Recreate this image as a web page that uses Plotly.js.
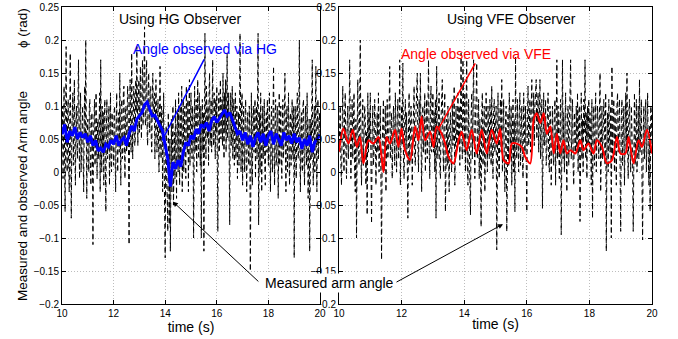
<!DOCTYPE html>
<html><head><meta charset="utf-8">
<script src="https://cdn.plot.ly/plotly-3.0.1.min.js"></script>
<style>html,body{margin:0;padding:0;background:#fff}#chart{width:678px;height:339px}</style>
</head><body><div id="chart"></div>
<script>
// sampling of the series (start time and step, in seconds)
const sampleStart = 10;
const measuredStep = 0.02;
const hgStep = 0.1;

// Measured arm angle (rad), left panel (HG), t = 10 .. 20 every 0.02 s
const measuredHG = [
 0.06,0.10,-0.01,0.04,0.13,0.02,-0.06,0.08,0.19,0.05,
 0.00,0.09,0.11,0.01,-0.03,0.07,0.18,0.03,-0.07,0.06,
 0.09,0.12,0.01,0.05,0.14,0.03,-0.02,0.08,0.10,0.04,
 0.02,0.11,0.17,0.06,-0.01,0.09,0.12,0.00,0.03,0.10,
 0.10,0.02,-0.03,0.07,0.13,0.05,0.20,0.08,-0.04,0.06,
 0.08,0.02,0.00,0.10,0.11,0.01,-0.02,0.07,0.09,0.03,
 -0.11,0.05,0.07,0.11,0.01,0.04,0.12,0.00,-0.01,0.08,
 0.08,0.02,0.05,0.12,-0.03,0.17,0.06,0.00,0.10,0.03,
 0.09,-0.02,0.08,0.11,0.01,-0.06,0.07,0.11,0.02,0.04,
 0.07,0.10,-0.02,0.05,0.12,0.01,0.00,0.09,0.06,0.02,
 0.01,0.09,0.10,0.02,-0.03,0.07,0.12,0.04,0.00,0.08,
 0.09,0.03,0.15,0.06,-0.02,0.10,0.11,0.02,0.03,0.12,
 0.13,0.05,-0.01,0.09,0.10,0.03,0.04,0.13,0.12,0.02,
 -0.11,0.08,0.14,0.05,0.03,0.18,0.10,0.02,0.07,0.13,
 0.12,0.04,0.05,0.14,0.09,0.19,0.06,0.04,0.11,0.14,
 0.06,0.12,0.16,0.08,0.05,0.13,0.17,0.07,0.09,0.15,
 0.22,0.08,0.07,0.14,0.17,0.06,0.04,0.12,0.15,0.08,
 0.06,0.13,0.13,0.05,0.03,0.11,0.15,0.09,0.08,0.12,
 0.02,0.07,0.14,0.10,0.03,0.06,0.11,0.02,0.00,0.09,
 0.16,0.05,0.02,0.10,0.09,-0.03,0.04,0.12,0.01,-0.05,
 -0.13,0.03,0.07,-0.02,-0.04,-0.09,0.09,0.01,-0.08,0.05,
 -0.12,0.06,0.08,-0.03,0.02,0.10,-0.05,0.00,0.06,-0.01,
 0.11,0.03,-0.04,0.07,0.09,0.00,0.12,0.02,-0.02,0.10,
 0.01,0.05,0.13,-0.03,0.04,0.11,0.00,0.08,0.10,0.02,
 -0.01,0.13,0.06,0.03,0.11,-0.03,0.09,0.14,0.01,0.06,
 0.12,0.05,0.02,0.10,0.08,-0.10,0.07,0.13,0.03,0.06,
 0.11,0.00,0.09,0.14,0.04,0.02,0.12,0.08,0.01,0.10,
 -0.10,0.06,0.11,0.03,0.09,-0.12,0.05,0.21,0.08,0.02,
 0.13,0.07,0.05,0.10,0.01,0.12,0.15,0.04,0.06,0.11,
 0.03,0.09,0.17,0.05,0.04,0.12,0.08,0.02,0.11,0.06,
 0.13,0.06,-0.09,0.09,0.12,0.03,0.07,0.14,0.05,0.10,
 0.11,0.04,0.15,0.08,0.02,0.12,0.06,0.14,0.03,0.09,
 0.18,0.05,0.08,0.12,0.03,-0.08,0.09,0.12,0.04,0.07,
 0.13,0.02,0.06,0.11,0.01,0.09,0.12,0.02,0.05,0.10,
 -0.01,0.08,0.09,0.01,0.06,0.21,0.04,0.00,0.10,0.12,
 -0.02,0.06,0.10,0.03,0.00,0.09,0.11,0.02,-0.03,0.07,
 0.09,0.04,0.01,0.10,0.06,-0.15,0.08,0.12,0.00,-0.02,
 0.09,0.10,0.03,0.05,0.11,-0.01,0.06,0.10,0.02,0.08,
 0.21,-0.08,0.05,0.09,0.00,0.12,0.07,-0.03,0.04,0.10,
 0.02,0.08,0.11,0.01,-0.02,0.07,0.09,0.03,0.11,0.04,
 0.01,0.08,0.12,0.03,-0.03,0.06,0.10,0.02,0.00,0.09,
 0.16,0.04,-0.02,0.08,0.11,0.01,0.02,0.10,0.09,-0.04,
 0.06,0.12,0.01,0.05,0.10,0.03,-0.01,0.07,0.11,0.02,
 0.04,0.09,0.15,0.03,-0.03,0.08,0.10,0.00,0.05,0.12,
 0.02,-0.02,0.08,0.09,0.01,0.06,0.11,0.03,0.02,0.10,
 -0.13,0.05,0.10,0.02,-0.01,0.08,0.12,0.03,0.02,0.09,
 0.20,0.04,-0.03,0.07,0.09,0.01,0.00,0.10,0.11,0.02,
 -0.02,0.06,0.10,0.04,0.01,0.12,0.07,-0.04,0.03,0.08,
 -0.12,0.06,0.08,0.02,0.10,0.17,0.03,-0.02,0.07,0.10,
 0.00,0.05,0.16,0.04,-0.03,0.08,0.11,0.02,0.06,0.09,
 0.06
];

// Measured arm angle (rad), right panel (VFE), t = 10 .. 20 every 0.02 s
const measuredVFE = [
 0.03,0.08,0.10,0.01,-0.02,0.06,0.13,0.04,0.00,0.09,
 0.12,0.03,-0.01,0.07,0.10,0.02,0.05,0.17,0.08,-0.01,
 0.06,0.11,0.02,0.09,0.12,0.00,-0.03,0.08,-0.10,0.05,
 0.14,0.04,0.01,0.10,0.20,0.03,-0.02,0.07,0.11,0.01,
 0.04,0.10,0.08,-0.02,0.06,-0.065,0.12,0.03,0.09,0.05,
 0.12,0.02,-0.078,0.06,0.10,0.01,0.03,0.11,0.07,-0.02,
 0.05,0.09,0.03,0.12,0.00,0.06,0.10,-0.01,-0.133,0.04,
 0.08,0.11,0.00,0.05,0.10,-0.03,0.07,0.11,0.02,0.04,
 0.09,0.16,0.02,0.06,0.09,-0.01,0.03,0.10,0.07,0.01,
 0.12,0.03,0.00,0.08,0.11,0.02,0.06,0.17,-0.02,0.05,
 0.10,0.04,0.165,0.02,-0.01,0.08,0.11,0.03,0.09,0.02,
 -0.07,0.06,0.12,0.01,0.04,0.10,0.08,-0.02,0.05,0.11,
 0.13,0.02,0.01,0.09,0.12,0.15,0.04,0.00,0.11,0.06,
 0.15,0.02,-0.03,0.08,0.10,0.03,0.05,0.12,0.00,0.07,
 0.11,0.02,0.09,0.17,0.04,-0.01,0.10,0.13,0.03,0.06,
 0.12,0.03,0.09,0.00,0.11,-0.07,0.16,0.05,0.02,0.10,
 0.12,0.01,-0.01,0.08,0.11,0.14,0.04,0.00,0.09,0.12,
 -0.06,0.05,0.08,0.01,0.10,0.03,-0.03,0.07,0.09,0.02,
 0.00,0.11,0.04,0.06,0.13,-0.02,0.08,0.10,0.03,0.05,
 0.12,0.04,0.10,0.01,0.09,0.18,0.06,0.02,0.17,0.08,
 0.03,0.12,0.00,0.09,0.17,0.01,-0.02,0.11,0.06,0.03,
 -0.065,0.08,0.12,0.02,0.10,0.17,0.05,-0.01,0.09,0.11,
 0.165,0.02,0.06,0.11,-0.01,0.08,0.03,-0.083,0.09,0.12,
 0.01,0.06,0.10,-0.03,0.04,0.12,0.07,0.00,0.10,0.05,
 0.02,0.11,0.08,0.01,0.13,0.04,-0.01,0.09,0.11,0.03,
 0.06,0.10,-0.118,0.04,0.12,0.02,-0.01,0.09,0.11,0.03,
 0.14,0.00,0.06,0.11,0.02,-0.03,0.08,0.10,-0.09,0.05,
 0.09,0.01,0.12,0.07,0.03,0.10,-0.02,0.06,0.11,0.00,
 0.08,-0.06,0.175,0.04,0.02,0.11,0.06,0.00,0.09,0.12,
 0.01,0.05,0.10,0.02,-0.01,0.12,0.07,0.03,0.10,0.00,
 -0.06,0.08,0.13,0.04,0.06,0.11,0.03,0.09,0.14,0.05,
 0.06,0.12,0.04,0.10,0.13,0.14,0.05,0.08,0.12,0.03,
 0.09,0.14,0.02,0.07,0.11,-0.055,0.10,0.12,0.04,0.06,
 0.11,0.01,0.03,0.09,0.12,0.02,0.00,0.10,0.08,-0.02,
 0.05,0.10,0.03,0.01,0.09,0.11,-0.02,0.06,0.17,0.02,
 0.10,0.04,-0.01,0.08,0.11,-0.095,0.06,0.17,0.02,0.09,
 0.00,0.07,0.12,0.03,-0.03,0.09,0.10,0.01,0.05,0.11,
 0.17,0.02,0.08,0.11,0.01,-0.02,0.09,0.06,0.03,0.10,
 0.03,0.12,0.00,0.09,0.10,-0.075,0.05,0.12,0.02,0.08,
 0.00,0.11,0.06,0.17,0.02,0.09,-0.01,0.10,0.04,0.11,
 0.03,0.09,0.05,-0.02,0.11,-0.07,0.06,0.10,0.01,0.08,
 0.12,0.00,0.04,0.10,0.07,0.02,0.09,0.15,-0.03,0.06,
 0.10,0.02,0.05,0.11,0.08,0.01,0.12,-0.12,0.04,0.09,
 0.00,0.11,0.06,0.03,0.10,-0.10,0.16,0.02,0.07,0.11,
 0.00,0.09,0.04,-0.02,0.10,0.12,0.03,0.06,0.11,0.01,
 -0.09,0.08,0.11,0.01,0.06,0.10,-0.02,0.07,0.12,0.03,
 0.15,0.04,-0.01,0.09,0.11,0.03,0.00,0.10,0.06,0.02,
 -0.09,0.07,0.12,0.01,0.05,0.11,0.00,0.08,0.10,0.02,
 0.14,0.03,0.09,0.11,-0.01,-0.103,0.06,0.10,0.02,0.08,
 0.11,0.00,0.05,0.12,0.03,-0.02,0.07,-0.06,0.10,0.09,
 0.04
];

// Angle observed via HG (rad), t = 10 .. 20 every 0.1 s
const observedHG = [
 0.057,0.072,0.045,0.062,0.055,0.068,0.050,0.060,0.052,0.058,
 0.045,0.055,0.040,0.048,0.032,0.036,0.030,0.042,0.038,0.048,
 0.042,0.055,0.040,0.048,0.052,0.040,0.058,0.070,0.062,0.080,
 0.085,0.090,0.102,0.106,0.095,0.085,0.086,0.078,0.070,0.062,
 0.040,0.020,-0.022,0.015,0.005,0.018,0.008,0.030,0.045,0.040,
 0.055,0.050,0.065,0.058,0.072,0.068,0.075,0.062,0.078,0.084,
 0.075,0.082,0.088,0.094,0.085,0.090,0.080,0.070,0.058,0.062,
 0.048,0.060,0.042,0.055,0.038,0.052,0.060,0.045,0.058,0.040,
 0.055,0.062,0.042,0.058,0.050,0.040,0.060,0.048,0.055,0.043,
 0.058,0.045,0.052,0.035,0.050,0.040,0.055,0.030,0.045,0.050,
 0.057
];

// Angle observed via VFE (rad): turning points
const vfeTime = [
 10.00,10.14,10.30,10.44,10.57,10.67,10.78,10.94,11.10,11.26,11.42,11.52,11.63,11.79,11.90,12.00,12.11,12.27,12.43,12.54,
 12.64,12.75,12.91,13.02,13.12,13.28,13.39,13.50,13.66,13.82,13.92,14.08,14.24,14.40,14.56,14.72,14.88,15.04,15.15,15.26,
 15.42,15.52,15.68,15.84,15.95,16.11,16.22,16.32,16.43,16.54,16.64,16.75,16.86,16.96,17.07,17.17,17.28,17.39,17.55,17.71,
 17.81,17.97,18.13,18.24,18.40,18.56,18.72,18.88,18.99,19.15,19.25,19.41,19.57,19.68,19.84,20.00
];
const observedVFE = [
 0.031,0.066,0.043,0.064,0.038,0.053,0.013,0.048,0.043,0.053,0.000,0.053,0.043,0.064,0.038,0.066,0.033,0.018,0.069,0.048,
 0.084,0.048,0.061,0.038,0.069,0.058,0.043,0.023,0.013,0.048,0.061,0.033,0.064,0.028,0.064,0.028,0.064,0.043,0.066,0.018,
 0.013,0.043,0.043,0.038,0.023,0.013,0.079,0.089,0.074,0.089,0.058,0.069,0.028,0.058,0.028,0.048,0.028,0.033,0.028,0.048,
 0.033,0.043,0.028,0.048,0.038,0.013,0.018,0.053,0.028,0.028,0.053,0.013,0.048,0.038,0.064,0.028
];

// axis ticks
const xTicks = [10, 12, 14, 16, 18, 20];
const yTickVals = [-0.2, -0.15, -0.1, -0.05, 0, 0.05, 0.1, 0.15, 0.2, 0.25];
const yTickText = ['\u22120.2', '\u22120.15', '\u22120.1', '\u22120.05', '0', '0.05', '0.1', '0.15', '0.2', '0.25'];

const FONT = 'Liberation Sans, Arial, Helvetica, sans-serif';

const traces = [
  {type:'scatter', mode:'lines', y: measuredHG, x0: sampleStart, dx: measuredStep, xaxis:'x', yaxis:'y',
   line:{color:'#000000', width:1, dash:'5px,3px'}, hoverinfo:'skip'},
  {type:'scatter', mode:'lines', y: observedHG, x0: sampleStart, dx: hgStep, xaxis:'x', yaxis:'y',
   line:{color:'#0000ff', width:3}, hoverinfo:'skip'},
  {type:'scatter', mode:'lines', y: measuredVFE, x0: sampleStart, dx: measuredStep, xaxis:'x2', yaxis:'y2',
   line:{color:'#000000', width:1, dash:'5px,3px'}, hoverinfo:'skip'},
  {type:'scatter', mode:'lines', x: vfeTime, y: observedVFE, xaxis:'x2', yaxis:'y2',
   line:{color:'#ff0000', width:2, shape:'spline', smoothing:0.8}, hoverinfo:'skip'}
];

function xAxis(domain, anchor) {
  return {domain: domain, anchor: anchor, range: [10, 20], tickvals: xTicks,
    ticks: 'inside', ticklen: 4, tickcolor: '#000', showline: true, linecolor: '#000', linewidth: 1,
    mirror: 'ticks', showgrid: true, gridcolor: '#bdbdbd', griddash: '1px,2px', gridwidth: 1, zeroline: false,
    tickfont: {size: 10, color: '#000', family: FONT},
    title: {text: 'time (s)', font: {size: 14, color: '#000', family: FONT}, standoff: 1}};
}
function yAxis(anchor) {
  return {domain: [35/339, 332/339], anchor: anchor, range: [-0.2, 0.25], tickvals: yTickVals, ticktext: yTickText,
    ticks: 'inside', ticklen: 4, tickcolor: '#000', showline: true, linecolor: '#000', linewidth: 1,
    mirror: 'ticks', showgrid: true, gridcolor: '#bdbdbd', griddash: '1px,2px', gridwidth: 1, zeroline: false,
    tickfont: {size: 10, color: '#000', family: FONT}};
}

const annFont = {size: 14, color: '#000', family: FONT};
const layout = {
  width: 678, height: 339, margin: {l: 0, r: 0, t: 0, b: 0},
  paper_bgcolor: '#fff', plot_bgcolor: '#fff', showlegend: false,
  font: {family: FONT, color: '#000'},
  xaxis: xAxis([62/678, 320/678], 'y'),
  yaxis: yAxis('x'),
  xaxis2: xAxis([339/678, 652/678], 'y2'),
  yaxis2: yAxis('x2'),
  annotations: [
    {xref:'paper', yref:'paper', x:179.5/678, y:1-19/339, text:'Using HG Observer', showarrow:false, font:annFont, xanchor:'center', yanchor:'middle'},
    {xref:'paper', yref:'paper', x:511/678, y:1-19/339, text:'Using VFE Observer', showarrow:false, font:annFont, xanchor:'center', yanchor:'middle'},
    {xref:'x', yref:'y', x:13.88, y:0.048, axref:'x', ayref:'y', ax:15.54, ay:0.173, text:'', showarrow:true, arrowhead:0, arrowcolor:'#0000ff', arrowwidth:1.5},
    {xref:'paper', yref:'paper', x:205/678, y:1-49/339, text:'Angle observed via HG', showarrow:false, font:{size:14, color:'#0000ff', family:FONT}, xanchor:'center', yanchor:'middle'},
    {xref:'x2', yref:'y2', x:13.16, y:0.064, axref:'x2', ayref:'y2', ax:14.38, ay:0.167, text:'', showarrow:true, arrowhead:0, arrowcolor:'#ff0000', arrowwidth:1.5},
    {xref:'paper', yref:'paper', x:476/678, y:1-54/339, text:'Angle observed via VFE', showarrow:false, font:{size:14, color:'#ff0000', family:FONT}, xanchor:'center', yanchor:'middle'},
    {xref:'x', yref:'y', x:14.30, y:-0.045, axref:'x', ayref:'y', ax:17.67, ay:-0.168, text:'', showarrow:true, arrowhead:2, arrowsize:1, arrowcolor:'#000', arrowwidth:1},
    {xref:'x2', yref:'y2', x:15.24, y:-0.079, axref:'x2', ayref:'y2', ax:11.79, ay:-0.168, text:'', showarrow:true, arrowhead:2, arrowsize:1, arrowcolor:'#000', arrowwidth:1},
    {xref:'paper', yref:'paper', x:329/678, y:1-283/339, text:'Measured arm angle', showarrow:false, font:annFont, bgcolor:'#ffffff', xanchor:'center', yanchor:'middle', borderpad:1},
    {xref:'paper', yref:'paper', x:22/678, y:1-196/339, text:'Measured and observed Arm angle', textangle:-90, showarrow:false, font:{size:13.5, color:'#000', family:FONT}, xanchor:'center', yanchor:'middle'},
    {xref:'paper', yref:'paper', x:22/678, y:1-28/339, text:'\u03d5 (rad)', textangle:-90, showarrow:false, font:{size:13.5, color:'#000', family:FONT}, xanchor:'center', yanchor:'middle'}
  ]
};

Plotly.newPlot('chart', traces, layout, {staticPlot: true, displayModeBar: false});
</script>
</body></html>
